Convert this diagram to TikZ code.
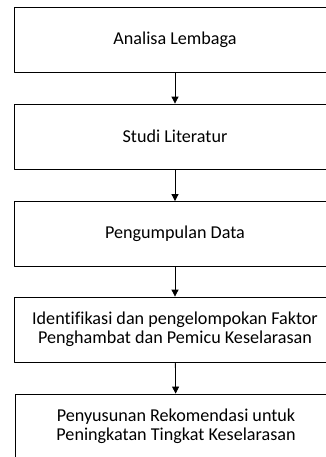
\documentclass[tikz,border=0pt]{standalone}
\usepackage{fontspec}
\setmainfont{Carlito}[Ligatures=NoCommon]
\usetikzlibrary{arrows.meta}
\usetikzlibrary{shapes}

\tikzset{stepbox/.style={draw=black,line width=0.8pt,rectangle,minimum width=322bp,minimum height=65bp,inner sep=0pt,align=center,font=\fontsize{18.2}{19}\selectfont}}

\begin{document}
\begin{tikzpicture}[>={Triangle[length=7bp,width=7bp]},line join=bevel,]
%%
\useasboundingbox (0bp,0bp) rectangle (326bp,-457bp);
\clip (0bp,0bp) rectangle (326bp,-457bp);
\node (box_1) at (175bp,-40bp) [stepbox] {Analisa Lembaga};
  \node (box_2) at (175bp,-136.5bp) [stepbox] {Studi Literatur};
  \node (box_3) at (175bp,-234bp) [stepbox] {Pengumpulan Data};
  \node (box_4) at (175bp,-329.5bp) [stepbox] {Identifikasi dan pengelompokan Faktor\\Penghambat dan Pemicu Keselarasan};
  \node (box_5) at (176bp,-426.5bp) [stepbox] {Penyusunan Rekomendasi untuk\\Peningkatan Tingkat Keselarasan};
  \draw [black,line width=0.8pt,->] (box_1) -- (box_2);
  \draw [black,line width=0.8pt,->] (box_2) -- (box_3);
  \draw [black,line width=0.8pt,->] (box_3) -- (box_4);
  \draw [black,line width=0.8pt,->] (box_4) -- (box_5);
%
\end{tikzpicture}
\end{document}
